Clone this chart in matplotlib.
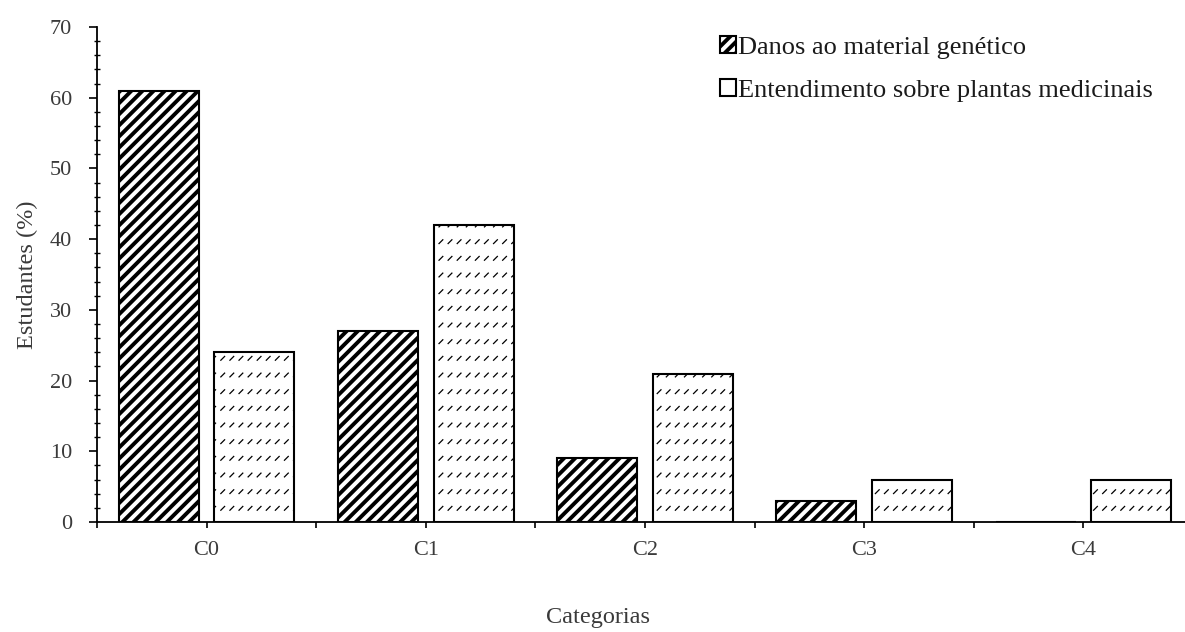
import warnings
import numpy as np
import matplotlib
matplotlib.use("Agg")
import matplotlib.pyplot as plt
from matplotlib import hatch as mhatch
from matplotlib.patches import Patch
from matplotlib.ticker import MultipleLocator

# data
categorias = ["C0", "C1", "C2", "C3", "C4"]
danos = [61, 27, 9, 3, 0]
entendimento = [24, 42, 21, 6, 6]
serie_labels = ["Danos ao material genético", "Entendimento sobre plantas medicinais"]


class DashedDiagonal(mhatch.HatchPatternBase):
    """Rows of short diagonal dashes (like Excel's 'dashed upward diagonal')."""
    def __init__(self, hatch, density):
        self.on = hatch.count('s') > 0
        self.rows = 6
        self.cols = 11
        self.num_lines = self.rows * self.cols if self.on else 0
        self.num_vertices = self.num_lines * 2

    def set_vertices_and_codes(self, vertices, codes):
        d = 0.019
        k = 0
        for i in range(self.rows):
            y = (i + 0.5) / self.rows
            for j in range(self.cols):
                x = (j + 0.5) / self.cols
                vertices[k] = (x - d, y - d)
                vertices[k + 1] = (x + d, y + d)
                codes[k] = mhatch.Path.MOVETO
                codes[k + 1] = mhatch.Path.LINETO
                k += 2


mhatch._hatch_types.append(DashedDiagonal)
warnings.filterwarnings("ignore")

plt.rcParams['font.family'] = ['Liberation Serif', 'DejaVu Serif']
plt.rcParams['hatch.linewidth'] = 2.8


def set_hlw(patches, lw):
    for p in patches:
        try:
            p.set_hatch_linewidth(lw)
        except AttributeError:
            pass


fig = plt.figure(figsize=(11.85, 6.32), dpi=100)
ax = fig.add_axes([97 / 1185, 110 / 632, 1096 / 1185, 495 / 632])

x = np.arange(len(categorias))
w = 0.365
off = 0.218

b1 = ax.bar(x - off, danos, w, color='white', edgecolor='black', linewidth=1.5,
            hatch='///')
set_hlw(b1, 2.8)
b2 = ax.bar(x + off, entendimento, w, color='white', edgecolor='black', linewidth=1.5,
            hatch='s')
set_hlw(b2, 0.9)

ax.set_xlim(-0.5, 4.5)
ax.set_ylim(0, 70)
ax.set_xticks(x)
ax.set_xticklabels(categorias)
ax.xaxis.set_minor_locator(MultipleLocator(0.5))
ax.yaxis.set_major_locator(MultipleLocator(10))
ax.yaxis.set_minor_locator(MultipleLocator(2))

for s in ['top', 'right']:
    ax.spines[s].set_visible(False)
for s in ['left', 'bottom']:
    ax.spines[s].set_linewidth(1.3)

tc = '#3a3a3a'
ax.tick_params(axis='y', which='major', direction='out', length=6, width=1.2,
               pad=12, labelsize=16, labelcolor=tc)
ax.tick_params(axis='y', which='minor', direction='inout', length=5, width=1.0)
ax.tick_params(axis='x', which='both', direction='out', length=4, width=1.2,
               pad=10, labelsize=16, labelcolor=tc)

ax.set_ylabel("Estudantes (%)", fontsize=17.5, color=tc)
ax.yaxis.set_label_coords(-0.054, 0.5)
ax.set_xlabel("Categorias", fontsize=17.5, color=tc)
ax.xaxis.set_label_coords(0.457, -0.172)

h1 = Patch(facecolor='white', edgecolor='black', linewidth=1.5, hatch='///')
h2 = Patch(facecolor='white', edgecolor='black', linewidth=1.5)
leg = fig.legend([h1, h2], serie_labels, loc='upper left',
                 bbox_to_anchor=(702 / 1185, 0.972), frameon=False,
                 fontsize=19, handlelength=0.58, handleheight=0.58, handletextpad=0.1,
                 labelspacing=0.78, borderpad=0.2)
for t in leg.get_texts():
    t.set_color('#1a1a1a')

fig.savefig("out.png", dpi=100)
